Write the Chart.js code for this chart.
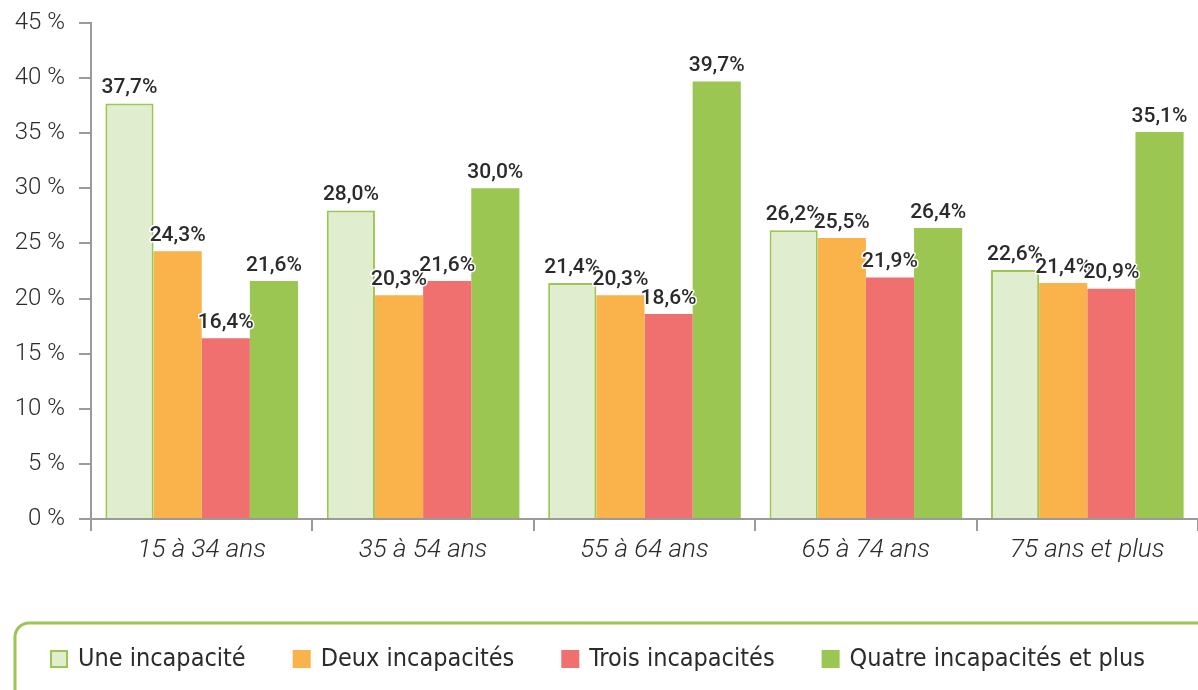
<!DOCTYPE html>
<html>
<head>
<meta charset="utf-8">
<script src="https://cdn.jsdelivr.net/npm/chart.js@4/dist/chart.umd.min.js"></script>
<style>
  html, body { margin: 0; padding: 0; background: #fff; }
  #wrap { width: 1198px; height: 690px; position: relative; }
</style>
</head>
<body>
<div id="wrap"><canvas id="chart"></canvas></div>
<script>
const categories = ["15 à 34 ans", "35 à 54 ans", "55 à 64 ans", "65 à 74 ans", "75 ans et plus"];
const seriesNames = ["Une incapacité", "Deux incapacités", "Trois incapacités", "Quatre incapacités et plus"];
const une = [37.7, 28.0, 21.4, 26.2, 22.6];
const deux = [24.3, 20.3, 20.3, 25.5, 21.4];
const trois = [16.4, 21.6, 18.6, 21.9, 20.9];
const quatre = [21.6, 30.0, 39.7, 26.4, 35.1];
const yTicks = [0, 5, 10, 15, 20, 25, 30, 35, 40, 45];

const GREEN = "#9bc651";
const axisGrey = "#9a9a9a";
const textCol = "#2b2b2b";

function fmt(v) {
  return v.toFixed(1).replace(".", ",") + "%";
}

// value labels above each bar
const valueLabels = {
  id: "valueLabels",
  afterDatasetsDraw(chart) {
    const ctx = chart.ctx;
    ctx.save();
    ctx.font = "500 21px Roboto";
    ctx.textAlign = "center";
    ctx.textBaseline = "bottom";
    ctx.lineJoin = "round";
    chart.data.datasets.forEach((ds, i) => {
      chart.getDatasetMeta(i).data.forEach((bar, j) => {
        const txt = fmt(ds.data[j]);
        ctx.strokeStyle = "#fff";
        ctx.lineWidth = 3;
        ctx.strokeText(txt, bar.x, bar.y - 5);
        ctx.fillStyle = textCol;
        ctx.fillText(txt, bar.x, bar.y - 5);
      });
    });
    ctx.restore();
  }
};

// framed legend at the bottom
const boxLegend = {
  id: "boxLegend",
  afterDraw(chart) {
    const ctx = chart.ctx;
    ctx.save();
    ctx.strokeStyle = GREEN;
    ctx.lineWidth = 3;
    ctx.beginPath();
    ctx.roundRect(15, 623, 1230, 120, 14);
    ctx.stroke();

    ctx.font = "25px 'DejaVu Sans Condensed'";
    ctx.textBaseline = "middle";
    ctx.textAlign = "left";
    let x = 50;
    const y = 659;
    chart.data.datasets.forEach((ds) => {
      ctx.fillStyle = ds.backgroundColor;
      ctx.fillRect(x, y - 9, 18, 18);
      if (ds.borderWidth) {
        ctx.strokeStyle = ds.borderColor;
        ctx.lineWidth = 2;
        ctx.strokeRect(x + 1, y - 8, 16, 16);
      }
      ctx.fillStyle = textCol;
      ctx.fillText(ds.label, x + 28, y);
      x += 28 + ctx.measureText(ds.label).width + 47;
    });
    ctx.restore();
  }
};

const chart = new Chart(document.getElementById("chart"), {
  type: "bar",
  data: {
    labels: categories,
    datasets: [
      {
        label: seriesNames[0],
        data: une,
        backgroundColor: "#e0edcf",
        borderColor: GREEN,
        borderWidth: 2,
      },
      {
        label: seriesNames[1],
        data: deux,
        backgroundColor: "#fab24a",
        borderWidth: 0,
      },
      {
        label: seriesNames[2],
        data: trois,
        backgroundColor: "#f07070",
        borderWidth: 0,
      },
      {
        label: seriesNames[3],
        data: quatre,
        backgroundColor: GREEN,
        borderWidth: 0,
      },
    ],
  },
  options: {
    responsive: true,
    maintainAspectRatio: false,
    animation: false,
    categoryPercentage: 0.87,
    barPercentage: 1,
    layout: {
      padding: { top: 23, left: 0, right: 0, bottom: 111 },
    },
    plugins: {
      legend: { display: false },
      tooltip: { enabled: false },
    },
    scales: {
      x: {
        grid: {
          offset: true,
          drawOnChartArea: false,
          color: axisGrey,
          lineWidth: 2,
          tickLength: 12,
        },
        border: { color: axisGrey, width: 2 },
        ticks: {
          color: textCol,
          padding: 4,
          font: { family: "Roboto", size: 26, style: "italic", weight: 300 },
        },
        afterFit: (scale) => {
          scale.height = 60;
          scale.paddingLeft = 0;
          scale.paddingRight = 0;
        },
      },
      y: {
        min: 0,
        max: 45,
        afterBuildTicks: (scale) => {
          scale.ticks = yTicks.map((v) => ({ value: v }));
        },
        grid: {
          drawOnChartArea: false,
          color: axisGrey,
          lineWidth: 2,
          tickLength: 12,
        },
        border: { color: axisGrey, width: 2 },
        ticks: {
          color: textCol,
          padding: 14,
          font: { family: "Roboto", size: 24, weight: 300 },
          callback: (v) => v + " %",
        },
        afterFit: (scale) => {
          scale.width = 91;
          scale.paddingTop = 0;
          scale.paddingBottom = 0;
        },
      },
    },
  },
  plugins: [valueLabels, boxLegend],
});
</script>
</body>
</html>
